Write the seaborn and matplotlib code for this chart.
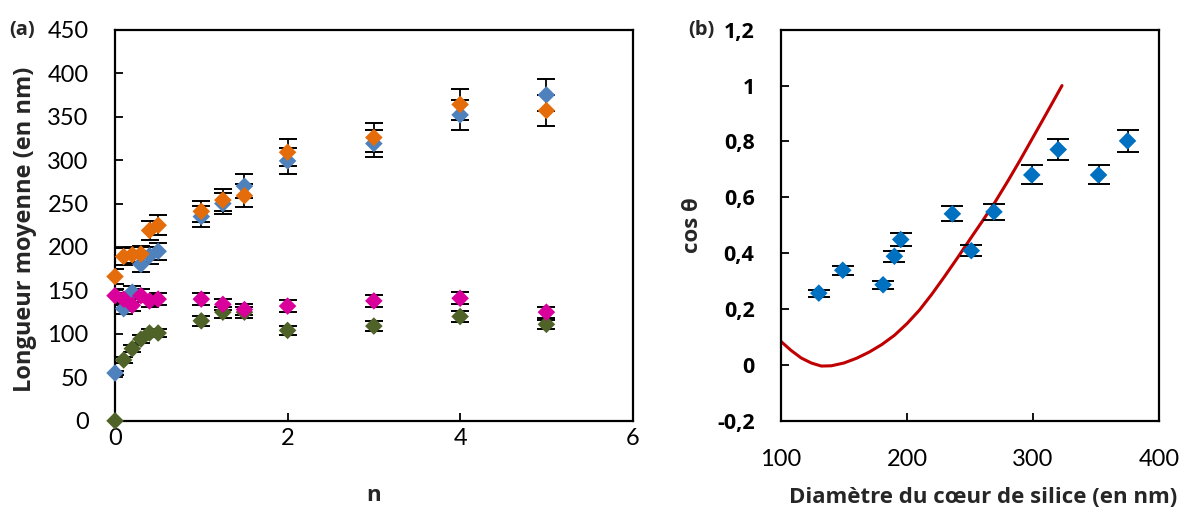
"""Mean length vs n (a) and cos(theta) vs silica core diameter (b)."""

import matplotlib
matplotlib.use("Agg")
import matplotlib.pyplot as plt
import matplotlib.ticker as ticker
import numpy as np
import pandas as pd
import seaborn as sns

# ---- panel (a) data ----
N_VALUES = [0, 0.1, 0.2, 0.3, 0.4, 0.5, 1, 1.25, 1.5, 2, 3, 4, 5]
BLUE_A = [55, 129, 148, 180, 190, 195, 235, 250, 270, 299, 319, 352, 375]
ORANGE_A = [166, 189, 191, 192, 219, 225, 241, 254, 259, 309, 326, 364, 357]
MAGENTA_A = [144, 140, 133, 144, 138, 140, 140, 134, 128, 132, 138, 141, 125]
GREEN_A = [0, 70, 83, 94, 101, 101, 115, 125, 125, 104, 109, 120, 111]
ERR_PCT = 0.05  # percentage error bars

# ---- panel (b) data ----
DIAMETER = [130, 149, 181, 190, 195, 236, 251, 269, 299, 320, 352, 375]
COS_THETA = [0.257, 0.339, 0.287, 0.389, 0.449, 0.541, 0.409, 0.548, 0.68, 0.771, 0.68, 0.802]
MODEL_D = [100, 108, 116, 124, 132, 140, 150, 160, 170, 180, 190, 200, 210, 220,
           230, 240, 250, 260, 270, 280, 290, 300, 310, 323]
MODEL_COS = [0.084, 0.052, 0.025, 0.007, -0.004, -0.003, 0.007, 0.024, 0.046, 0.073,
             0.106, 0.148, 0.197, 0.255, 0.318, 0.383, 0.45, 0.516, 0.584, 0.658,
             0.735, 0.815, 0.895, 1.0]

SERIES_A = [
    ("blue", BLUE_A, "#4F81BD"),
    ("orange", ORANGE_A, "#E46C0A"),
    ("green", GREEN_A, "#4F6228"),
    ("magenta", MAGENTA_A, "#D9009B"),
]

sns.set_theme(style="white")
plt.rcParams["font.family"] = ["Lato", "DejaVu Sans"]
BOLD = dict(family=["Open Sans", "DejaVu Sans"], fontweight="bold")


def style_axes(ax, xpad, ypad):
    for spine in ax.spines.values():
        spine.set_visible(True)
        spine.set_color("black")
        spine.set_linewidth(1.6)
    ax.tick_params(direction="in", length=6, width=1.3, colors="black", labelsize=17,
                   left=True, bottom=True)
    ax.tick_params(axis="x", pad=xpad)
    ax.tick_params(axis="y", pad=ypad)


fig = plt.figure(figsize=(11.81, 5.07), dpi=100)
ax_a = fig.add_axes([0.0974, 0.170, 0.4383, 0.7714])
ax_b = fig.add_axes([0.6613, 0.170, 0.3201, 0.7714])

# ---- (a) ----
for name, values, color in SERIES_A:
    df = pd.DataFrame({"n": N_VALUES, "length": values})
    yerr = np.array(values) * ERR_PCT
    ax_a.errorbar(df["n"], df["length"], yerr=yerr, fmt="none", ecolor="black",
                  elinewidth=1.3, capsize=6.5, capthick=1.4, zorder=2)
    sns.scatterplot(data=df, x="n", y="length", ax=ax_a, marker="D", s=80,
                    color=color, edgecolor="none", zorder=3, clip_on=False)

ax_a.set_xlim(0, 6)
ax_a.set_ylim(0, 450)
ax_a.xaxis.set_major_locator(ticker.MultipleLocator(2))
ax_a.yaxis.set_major_locator(ticker.MultipleLocator(50))
style_axes(ax_a, xpad=5, ypad=19)
ax_a.set_xlabel("n", fontsize=16, **BOLD)
ax_a.set_ylabel("Longueur moyenne (en nm)", fontsize=17, **BOLD)
ax_a.xaxis.set_label_coords(0.5, -0.165)
ax_a.yaxis.set_label_coords(-0.15, 0.49)

# ---- (b) ----
df_b = pd.DataFrame({"d": DIAMETER, "cos": COS_THETA})
df_m = pd.DataFrame({"d": MODEL_D, "cos": MODEL_COS})
sns.lineplot(data=df_m, x="d", y="cos", ax=ax_b, color="#C00000", linewidth=2.2, zorder=2)
ax_b.errorbar(df_b["d"], df_b["cos"], yerr=np.array(COS_THETA) * ERR_PCT, fmt="none",
              ecolor="black", elinewidth=1.3, capsize=8, capthick=1.4, zorder=3)
sns.scatterplot(data=df_b, x="d", y="cos", ax=ax_b, marker="D", s=80,
                color="#0070C0", edgecolor="none", zorder=4)

ax_b.set_xlim(100, 400)
ax_b.set_ylim(-0.2, 1.2)
ax_b.xaxis.set_major_locator(ticker.MultipleLocator(100))
ax_b.yaxis.set_major_locator(ticker.MultipleLocator(0.2))
ax_b.yaxis.set_major_formatter(ticker.FuncFormatter(
    lambda v, _: f"{v:.1f}".rstrip("0").rstrip(".").replace(".", ",") if abs(v) > 1e-9 else "0"))
style_axes(ax_b, xpad=20, ypad=19)
for lbl in ax_b.get_yticklabels():
    lbl.set_fontweight("bold")
    lbl.set_family(["Open Sans", "DejaVu Sans"])
    lbl.set_fontsize(15.5)
ax_b.set_xlabel("Diamètre du cœur de silice (en nm)", fontsize=16, **BOLD)
ax_b.set_ylabel("cos θ", fontsize=16, **BOLD)
ax_b.xaxis.set_label_coords(0.535, -0.17)
ax_b.yaxis.set_label_coords(-0.205, 0.5)

fig.text(0.008, 0.93, "(a)", fontsize=14.5, **BOLD)
fig.text(0.583, 0.93, "(b)", fontsize=14.5, **BOLD)

fig.savefig("out.png", dpi=100)
